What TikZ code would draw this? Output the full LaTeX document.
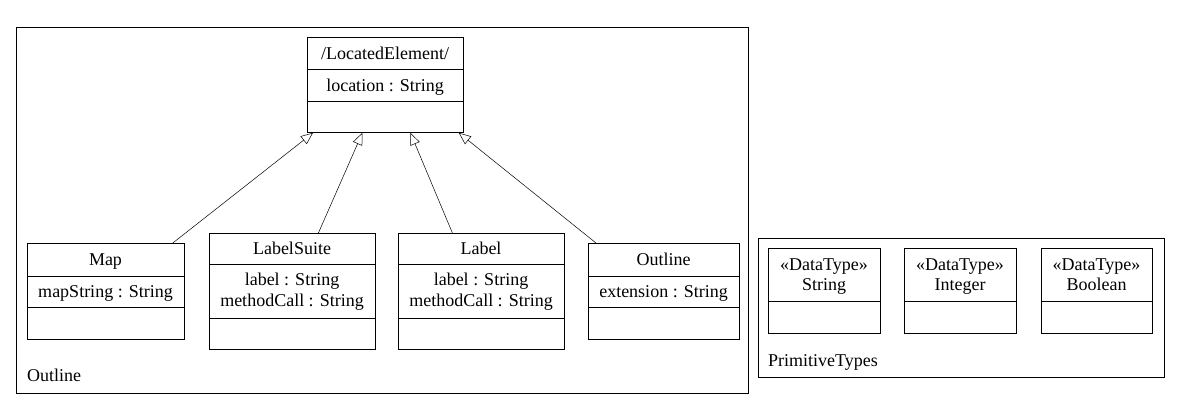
\documentclass[tikz,border=0pt]{standalone}
\usepackage{fontspec}
\setmainfont{Liberation Serif}
\usetikzlibrary{arrows.meta}

\tikzset{
	clsbox/.style = {draw, line width = .8pt, inner sep = 0, anchor = north west},
	pkgbox/.style = {draw, line width = 1pt, inner sep = 0, anchor = north west},
	txt/.style = {inner sep = 0, anchor = base, align = center, font = \fontsize{18}{20.5}\selectfont},
	inherit/.style = {-{Triangle[open, length = 12pt, width = 10pt]}, line width = .5pt}
}

\begin{document}
\begin{tikzpicture}[x = 1pt, y = -1pt]
	\useasboundingbox (0,0) rectangle (1179,408);

	% packages
	\node [pkgbox, minimum width = 732, minimum height = 366] (pkgoutline) at (16,27) {};
	\node [txt, anchor = base west] (pkgoutlinename) at (27,381) {Outline};
	\node [pkgbox, minimum width = 406, minimum height = 139] (pkgprim) at (758,238) {};
	\node [txt, anchor = base west] (pkgprimname) at (768,366) {PrimitiveTypes};

	% /LocatedElement/
	\node [clsbox, minimum width = 156, minimum height = 95] (located) at (307,37) {};
	\draw [line width = .8pt] (located.west |- 0,69) -- (located.east |- 0,69);
	\draw [line width = .8pt] (located.west |- 0,101) -- (located.east |- 0,101);
	\node [txt] (locatedname) at (385,59.5) {/LocatedElement/};
	\node [txt] (locatedattr) at (385,91.5) {location : String};

	% Map
	\node [clsbox, minimum width = 157, minimum height = 96] (map) at (27,243) {};
	\draw [line width = .8pt] (map.west |- 0,276) -- (map.east |- 0,276);
	\draw [line width = .8pt] (map.west |- 0,307) -- (map.east |- 0,307);
	\node [txt] (mapname) at (105.5,265) {Map};
	\node [txt] (mapattr) at (105.5,297.5) {mapString : String};

	% LabelSuite (base = last line)
	\node [clsbox, minimum width = 166, minimum height = 116] (labelsuite) at (209,233) {};
	\draw [line width = .8pt] (labelsuite.west |- 0,264) -- (labelsuite.east |- 0,264);
	\draw [line width = .8pt] (labelsuite.west |- 0,318) -- (labelsuite.east |- 0,318);
	\node [txt] (labelsuitename) at (292,254) {LabelSuite};
	\node [txt] (labelsuiteattr) at (292,306) {label : String\\methodCall : String};

	% Label
	\node [clsbox, minimum width = 166, minimum height = 116] (label) at (398,233) {};
	\draw [line width = .8pt] (label.west |- 0,264) -- (label.east |- 0,264);
	\draw [line width = .8pt] (label.west |- 0,318) -- (label.east |- 0,318);
	\node [txt] (labelname) at (481,254) {Label};
	\node [txt] (labelattr) at (481,306) {label : String\\methodCall : String};

	% Outline
	\node [clsbox, minimum width = 151, minimum height = 96] (outline) at (588,243) {};
	\draw [line width = .8pt] (outline.west |- 0,276) -- (outline.east |- 0,276);
	\draw [line width = .8pt] (outline.west |- 0,307) -- (outline.east |- 0,307);
	\node [txt] (outlinename) at (663.5,265) {Outline};
	\node [txt] (outlineattr) at (663.5,297.5) {extension : String};

	% generalisations
	\draw [inherit] ([xshift = -12pt]map.north east) -- ([xshift = 6pt]located.south west);
	\draw [inherit] ([xshift = 26pt]labelsuite.north) -- ([xshift = -23pt]located.south);
	\draw [inherit] ([xshift = -29pt]label.north) -- ([xshift = 25pt]located.south);
	\draw [inherit] ([xshift = 8pt]outline.north west) -- ([xshift = -5pt]located.south east);

	% data types
	\node [clsbox, minimum width = 112, minimum height = 85] (string) at (768,248) {};
	\draw [line width = .8pt] (string.west |- 0,301) -- (string.east |- 0,301);
	\node [txt] (stringname) at (824,290.5) {«DataType»\\String};

	\node [clsbox, minimum width = 112, minimum height = 85] (integer) at (904,248) {};
	\draw [line width = .8pt] (integer.west |- 0,301) -- (integer.east |- 0,301);
	\node [txt] (integername) at (960,290.5) {«DataType»\\Integer};

	\node [clsbox, minimum width = 111, minimum height = 85] (boolean) at (1041,248) {};
	\draw [line width = .8pt] (boolean.west |- 0,301) -- (boolean.east |- 0,301);
	\node [txt] (booleanname) at (1096.5,290.5) {«DataType»\\Boolean};
\end{tikzpicture}
\end{document}
